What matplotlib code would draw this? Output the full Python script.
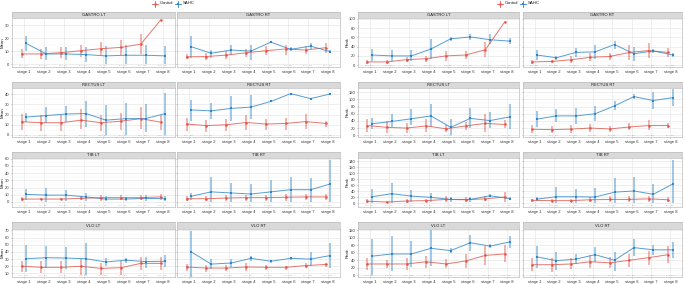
import matplotlib
matplotlib.use("Agg")
import matplotlib.pyplot as plt
import numpy as np

plt.rcParams['font.family'] = ['Liberation Sans', 'DejaVu Sans']

# Data
stages = ['stage 1', 'stage 2', 'stage 3', 'stage 4', 'stage 5', 'stage 6', 'stage 7', 'stage 8']
groups = ['Control', 'SAHC']
n_control = ['n=10', 'n=10', 'n=10', 'n=10', 'n=10', 'n=10', 'n=10', 'n=10']
n_sahc = ['n=8', 'n=8', 'n=8', 'n=8', 'n=8', 'n=8', 'n=8', 'n=8']

# ---- Mean ----
mean_gastro_lt_c = [8, 8, 9, 10.5, 12, 13, 15.5, 34]
mean_gastro_lt_c_lo = [5, 4, 5, 6, 7, 7, 8, 34]
mean_gastro_lt_c_hi = [12, 12, 13, 15, 17, 19, 23, 34]
mean_gastro_lt_s = [16, 8, 8, 7.5, 6.5, 7, 7, 6.5]
mean_gastro_lt_s_lo = [10, 3, 3, 2, 0, 0, 0, 0]
mean_gastro_lt_s_hi = [22, 13, 13, 13, 14, 15, 15, 14]

mean_gastro_rt_c = [5.8, 6, 7.1, 8.9, 10.5, 11.8, 11, 12.8]
mean_gastro_rt_c_lo = [4, 3.5, 4, 6, 7, 7, 8, 9]
mean_gastro_rt_c_hi = [8, 8.5, 10, 12, 14, 15, 14, 16]
mean_gastro_rt_s = [13.5, 8.5, 11, 10.2, 17, 11.5, 14, 9.7]
mean_gastro_rt_s_lo = [5, 5, 7, 3, 16, 10, 12, 9]
mean_gastro_rt_s_hi = [22, 11, 15, 15, 18, 13, 16, 11]

mean_rectus_lt_c = [13, 12, 12, 14.5, 12, 13.5, 16, 12.5]
mean_rectus_lt_c_lo = [5, 4, 4, 6, 4, 5, 6, 5]
mean_rectus_lt_c_hi = [21, 20, 20, 25, 20, 22, 27, 20]
mean_rectus_lt_s = [17.5, 19, 20.5, 21, 14.5, 16, 16, 21]
mean_rectus_lt_s_lo = [13, 12, 13, 8, 0, 0, 3, 0]
mean_rectus_lt_s_hi = [22, 27, 28, 33, 29, 31, 30, 41]

mean_rectus_rt_c = [10.7, 9.2, 10, 12.2, 10.7, 11.3, 13.1, 11.3]
mean_rectus_rt_c_lo = [4, 3, 4, 5, 5, 5, 6, 8]
mean_rectus_rt_c_hi = [17, 15, 16, 20, 16, 17, 21, 14]
mean_rectus_rt_s = [24.5, 23.6, 26, 27.3, 32.8, 40.5, 35.6, 40.2]
mean_rectus_rt_s_lo = [14, 16, 14, 16, 32, 40, 35, 39.5]
mean_rectus_rt_s_hi = [34, 31, 38, 39, 33.5, 41, 36.2, 41]

mean_tib_lt_c = [4, 4, 4, 5, 6, 6, 6, 7]
mean_tib_lt_c_lo = [2, 3, 3, 3, 2, 3, 3, 3]
mean_tib_lt_c_hi = [7, 5, 6, 8, 10, 10, 10, 11]
mean_tib_lt_s = [10.5, 9.5, 9.5, 7, 4, 4, 5, 4.5]
mean_tib_lt_s_lo = [3, 0, 2, 2, 1, 1, 1, 1]
mean_tib_lt_s_hi = [18, 19, 17, 13, 8, 7, 9, 8]

mean_tib_rt_c = [4.5, 4.5, 5.5, 6, 6, 6.5, 7, 7]
mean_tib_rt_c_lo = [1, 1, 2, 2, 2, 2, 3, 3]
mean_tib_rt_c_hi = [8, 8, 9, 10, 10, 11, 11, 11]
mean_tib_rt_s = [8, 14, 12.5, 11, 14, 17, 17, 25]
mean_tib_rt_s_lo = [3, 0, 0, 0, 0, 0, 0, 0]
mean_tib_rt_s_hi = [13, 35, 27, 25, 30, 35, 33, 58]

mean_vlo_lt_c = [20, 18.5, 18.5, 20, 17, 18, 24, 24]
mean_vlo_lt_c_lo = [12, 10, 10, 8, 8, 8, 15, 15]
mean_vlo_lt_c_hi = [28, 27, 27, 30, 25, 28, 33, 33]
mean_vlo_lt_s = [30.5, 32, 31.5, 30.5, 26, 28.5, 26.5, 27]
mean_vlo_lt_s_lo = [12, 17, 16, 8, 21, 25, 18, 19]
mean_vlo_lt_s_hi = [49, 48, 47, 52, 32, 32, 33, 36]

mean_vlo_rt_c = [19, 17.5, 17.5, 19, 18.5, 18.5, 21, 22.5]
mean_vlo_rt_c_lo = [14, 12, 13, 14, 15, 15, 18, 19]
mean_vlo_rt_c_hi = [23, 22, 22, 24, 22, 21, 24, 25]
mean_vlo_rt_s = [40, 23, 24.5, 31, 27, 31, 30, 35]
mean_vlo_rt_s_lo = [5, 16, 19, 27, 24, 29, 21, 17]
mean_vlo_rt_s_hi = [69, 30, 30, 35, 29, 33, 40, 52]

# ---- Peak ----
peak_gastro_lt_c = [7, 7, 12, 14, 20, 22, 33, 94]
peak_gastro_lt_c_lo = [2, 3, 6, 6, 10, 14, 18, 94]
peak_gastro_lt_c_hi = [12, 11, 18, 20, 30, 30, 50, 94]
peak_gastro_lt_s = [22, 20, 20, 35, 57, 61, 55, 52]
peak_gastro_lt_s_lo = [10, 8, 8, 14, 53, 55, 45, 45]
peak_gastro_lt_s_hi = [34, 32, 32, 56, 61, 67, 67, 58]

peak_gastro_rt_c = [7, 8, 11.7, 17, 18.8, 27.5, 31.6, 27.5]
peak_gastro_rt_c_lo = [3, 4, 5, 8, 12, 12, 15, 18]
peak_gastro_rt_c_hi = [11, 12, 19, 26, 26, 43, 48, 38]
peak_gastro_rt_s = [22, 16, 27.5, 28.8, 44.6, 24.7, 30.8, 22]
peak_gastro_rt_s_lo = [12, 12, 18, 14, 36, 10, 26, 17]
peak_gastro_rt_s_hi = [32, 20, 38, 43, 53, 40, 36, 27]

peak_rectus_lt_c = [27, 22, 20, 26, 18, 26, 33, 30]
peak_rectus_lt_c_lo = [8, 5, 6, 10, 10, 15, 8, 20]
peak_rectus_lt_c_hi = [46, 39, 34, 44, 28, 38, 58, 42]
peak_rectus_lt_s = [32, 38.5, 46, 54, 22, 47, 41, 51]
peak_rectus_lt_s_lo = [18, 22, 28, 24, 0, 20, 20, 18]
peak_rectus_lt_s_hi = [48, 58, 72, 86, 44, 77, 64, 88]

peak_rectus_rt_c = [16.5, 15.6, 17, 20, 17.5, 23, 27, 27]
peak_rectus_rt_c_lo = [5, 5, 6, 10, 8, 14, 15, 20]
peak_rectus_rt_c_hi = [28, 26, 28, 30, 27, 34, 43, 35]
peak_rectus_rt_s = [45, 54, 54, 60, 82, 108, 97, 105]
peak_rectus_rt_s_lo = [22, 36, 30, 40, 70, 100, 73, 82]
peak_rectus_rt_s_hi = [68, 72, 76, 83, 96, 115, 120, 128]

peak_tib_lt_c = [7, 4.5, 7.8, 9, 13, 12, 15, 21]
peak_tib_lt_c_lo = [0, 2, 2, 4, 5, 5, 8, 6]
peak_tib_lt_c_hi = [14, 7, 14, 14, 24, 20, 24, 36]
peak_tib_lt_s = [22, 32, 24, 20, 13, 13, 25, 16]
peak_tib_lt_s_lo = [0, 0, 5, 6, 5, 6, 20, 10]
peak_tib_lt_s_hi = [46, 68, 44, 35, 22, 20, 30, 22]

peak_tib_rt_c = [10, 9, 9, 12, 13, 13, 15, 12]
peak_tib_rt_c_lo = [4, 4, 4, 4, 4, 4, 6, 4]
peak_tib_rt_c_hi = [16, 14, 14, 20, 24, 24, 26, 22]
peak_tib_rt_s = [14, 22, 22, 21, 37, 41, 30, 64]
peak_tib_rt_s_lo = [8, 0, 0, 0, 0, 0, 0, 0]
peak_tib_rt_s_hi = [22, 55, 48, 52, 85, 88, 65, 142]

peak_vlo_lt_c = [30, 30, 30, 36, 30, 38, 53, 57]
peak_vlo_lt_c_lo = [14, 18, 14, 20, 18, 20, 28, 34]
peak_vlo_lt_c_hi = [46, 42, 46, 52, 44, 58, 78, 80]
peak_vlo_lt_s = [51, 57, 57, 72, 66, 87, 78, 89]
peak_vlo_lt_s_lo = [0, 10, 22, 24, 60, 66, 72, 74]
peak_vlo_lt_s_hi = [98, 106, 92, 120, 72, 108, 84, 104]

peak_vlo_rt_c = [28, 28, 30, 36, 33, 40, 47, 55]
peak_vlo_rt_c_lo = [10, 8, 16, 18, 18, 22, 28, 32]
peak_vlo_rt_c_hi = [46, 46, 46, 54, 48, 58, 66, 78]
peak_vlo_rt_s = [49, 39, 43, 55, 40, 74, 68, 68]
peak_vlo_rt_s_lo = [20, 15, 30, 35, 10, 52, 55, 46]
peak_vlo_rt_s_hi = [78, 62, 56, 75, 62, 96, 82, 88]

RED = '#E0554B'
BLUE = '#2E86C8'
W, H = 685, 284
FS = 3.0

fig = plt.figure(figsize=(W / 100, H / 100), dpi=100)


def px_axes(x0, y0, x1, y1):
    return fig.add_axes([x0 / W, 1 - y1 / H, (x1 - x0) / W, (y1 - y0) / H])


def draw_panel(ax, ctrl, sahc, ylim, yticks, show_y):
    x = np.arange(1, 9)
    for (m, lo, hi), col, dx, mk in [(ctrl, RED, -0.12, 'o'), (sahc, BLUE, 0.12, 's')]:
        xs = x + dx
        ax.vlines(xs, lo, hi, color=col, lw=1.4, alpha=0.45, zorder=2)
        ax.plot(xs, m, color=col, lw=0.7, alpha=0.8, zorder=3)
        ax.plot(xs, m, mk, color=col, ms=1.8, mew=0, zorder=4)
    y_n = ylim[0] + 0.02 * (ylim[1] - ylim[0])
    for i in range(8):
        ax.text(x[i] - 0.13, y_n, n_control[i], color=RED, alpha=0.6,
                fontsize=1.5, ha='center', va='bottom')
        ax.text(x[i] + 0.11, y_n, n_sahc[i], color=BLUE, alpha=0.6,
                fontsize=1.5, ha='center', va='bottom')
    ax.set_xlim(0.4, 8.6)
    ax.set_ylim(*ylim)
    ax.set_yticks(yticks)
    mid = [(a + b) / 2 for a, b in zip(yticks[:-1], yticks[1:])]
    ax.set_yticks(mid, minor=True)
    ax.grid(True, which='major', color='#E8E8E8', lw=0.5)
    ax.grid(True, which='minor', color='#F4F4F4', lw=0.3)
    ax.set_axisbelow(True)
    ax.set_xticks(x)
    ax.set_xticklabels(stages)
    ax.tick_params(axis='both', labelsize=FS, length=1.0, width=0.4,
                   colors='#888888', labelcolor='#333333', pad=0.8)
    ax.tick_params(axis='y', which='minor', length=0)
    if not show_y:
        ax.set_yticklabels([])
    for s in ax.spines.values():
        s.set_color('#BDBDBD')
        s.set_linewidth(0.5)


def strip(x0, x1, y0, y1, title):
    sa = px_axes(x0, y0, x1, y1)
    sa.set_facecolor('#D9D9D9')
    sa.set_xticks([])
    sa.set_yticks([])
    for s in sa.spines.values():
        s.set_color('#BDBDBD')
        s.set_linewidth(0.5)
    sa.text(0.5, 0.45, title, transform=sa.transAxes, ha='center', va='center',
            fontsize=FS, color='#1A1A1A')


rows_px = [(12, 18, 67), (82, 88, 137), (152, 158, 207), (222, 229, 277)]

mean_panels = [
    ('GASTRO LT', (mean_gastro_lt_c, mean_gastro_lt_c_lo, mean_gastro_lt_c_hi), (mean_gastro_lt_s, mean_gastro_lt_s_lo, mean_gastro_lt_s_hi),
     'GASTRO RT', (mean_gastro_rt_c, mean_gastro_rt_c_lo, mean_gastro_rt_c_hi), (mean_gastro_rt_s, mean_gastro_rt_s_lo, mean_gastro_rt_s_hi),
     (-2, 35.5), [0, 10, 20, 30]),
    ('RECTUS LT', (mean_rectus_lt_c, mean_rectus_lt_c_lo, mean_rectus_lt_c_hi), (mean_rectus_lt_s, mean_rectus_lt_s_lo, mean_rectus_lt_s_hi),
     'RECTUS RT', (mean_rectus_rt_c, mean_rectus_rt_c_lo, mean_rectus_rt_c_hi), (mean_rectus_rt_s, mean_rectus_rt_s_lo, mean_rectus_rt_s_hi),
     (-2, 46), [0, 10, 20, 30, 40]),
    ('TIB LT', (mean_tib_lt_c, mean_tib_lt_c_lo, mean_tib_lt_c_hi), (mean_tib_lt_s, mean_tib_lt_s_lo, mean_tib_lt_s_hi),
     'TIB RT', (mean_tib_rt_c, mean_tib_rt_c_lo, mean_tib_rt_c_hi), (mean_tib_rt_s, mean_tib_rt_s_lo, mean_tib_rt_s_hi),
     (-7, 61), [0, 10, 20, 30, 40, 50, 60]),
    ('VLO LT', (mean_vlo_lt_c, mean_vlo_lt_c_lo, mean_vlo_lt_c_hi), (mean_vlo_lt_s, mean_vlo_lt_s_lo, mean_vlo_lt_s_hi),
     'VLO RT', (mean_vlo_rt_c, mean_vlo_rt_c_lo, mean_vlo_rt_c_hi), (mean_vlo_rt_s, mean_vlo_rt_s_lo, mean_vlo_rt_s_hi),
     (5, 72), [10, 20, 30, 40, 50, 60, 70]),
]

peak_panels = [
    ('GASTRO LT', (peak_gastro_lt_c, peak_gastro_lt_c_lo, peak_gastro_lt_c_hi), (peak_gastro_lt_s, peak_gastro_lt_s_lo, peak_gastro_lt_s_hi),
     'GASTRO RT', (peak_gastro_rt_c, peak_gastro_rt_c_lo, peak_gastro_rt_c_hi), (peak_gastro_rt_s, peak_gastro_rt_s_lo, peak_gastro_rt_s_hi),
     (-4, 102), [0, 20, 40, 60, 80, 100]),
    ('RECTUS LT', (peak_rectus_lt_c, peak_rectus_lt_c_lo, peak_rectus_lt_c_hi), (peak_rectus_lt_s, peak_rectus_lt_s_lo, peak_rectus_lt_s_hi),
     'RECTUS RT', (peak_rectus_rt_c, peak_rectus_rt_c_lo, peak_rectus_rt_c_hi), (peak_rectus_rt_s, peak_rectus_rt_s_lo, peak_rectus_rt_s_hi),
     (-5, 132), [0, 20, 40, 60, 80, 100, 120]),
    ('TIB LT', (peak_tib_lt_c, peak_tib_lt_c_lo, peak_tib_lt_c_hi), (peak_tib_lt_s, peak_tib_lt_s_lo, peak_tib_lt_s_hi),
     'TIB RT', (peak_tib_rt_c, peak_tib_rt_c_lo, peak_tib_rt_c_hi), (peak_tib_rt_s, peak_tib_rt_s_lo, peak_tib_rt_s_hi),
     (-12, 150), [0, 20, 40, 60, 80, 100, 120, 140]),
    ('VLO LT', (peak_vlo_lt_c, peak_vlo_lt_c_lo, peak_vlo_lt_c_hi), (peak_vlo_lt_s, peak_vlo_lt_s_lo, peak_vlo_lt_s_hi),
     'VLO RT', (peak_vlo_rt_c, peak_vlo_rt_c_lo, peak_vlo_rt_c_hi), (peak_vlo_rt_s, peak_vlo_rt_s_lo, peak_vlo_rt_s_hi),
     (-5, 124), [0, 20, 40, 60, 80, 100, 120]),
]

blocks = [
    (mean_panels, 'Mean', 2.5, [(12, 175), (177, 340)], 155),
    (peak_panels, 'Peak', 347.5, [(358, 519), (523, 682)], 500),
]

for panels, ylab, ylab_x, cols, leg_x in blocks:
    for (rs, ry0, ry1), row in zip(rows_px, panels):
        t1, c1, s1, t2, c2, s2, ylim, yticks = row
        for ci, (title, c, s) in enumerate([(t1, c1, s1), (t2, c2, s2)]):
            x0, x1 = cols[ci]
            strip(x0, x1, rs, ry0, title)
            ax = px_axes(x0, ry0, x1, ry1)
            draw_panel(ax, c, s, ylim, yticks, ci == 0)
        fig.text(ylab_x / W, 1 - (ry0 + ry1) / 2 / H, ylab, rotation=90,
                 fontsize=3.2, ha='center', va='center', color='#1A1A1A')
    # legend
    for gi, (g, col, mk) in enumerate([(groups[0], RED, 'o'), (groups[1], BLUE, 's')]):
        lx = (leg_x + gi * 23) / W
        ly = 1 - 3.5 / H
        fig.lines.append(plt.Line2D([lx - 3 / W, lx + 3 / W], [ly, ly], color=col, lw=0.6,
                                    transform=fig.transFigure))
        fig.lines.append(plt.Line2D([lx, lx], [ly - 3 / H, ly + 3 / H], color=col, lw=0.6,
                                    transform=fig.transFigure))
        fig.lines.append(plt.Line2D([lx], [ly], marker=mk, ms=1.8, mew=0, color=col,
                                    transform=fig.transFigure))
        fig.text(lx + 4.5 / W, ly, g, fontsize=3.1, ha='left', va='center', color='#1A1A1A')

fig.savefig('out.png', dpi=100)
